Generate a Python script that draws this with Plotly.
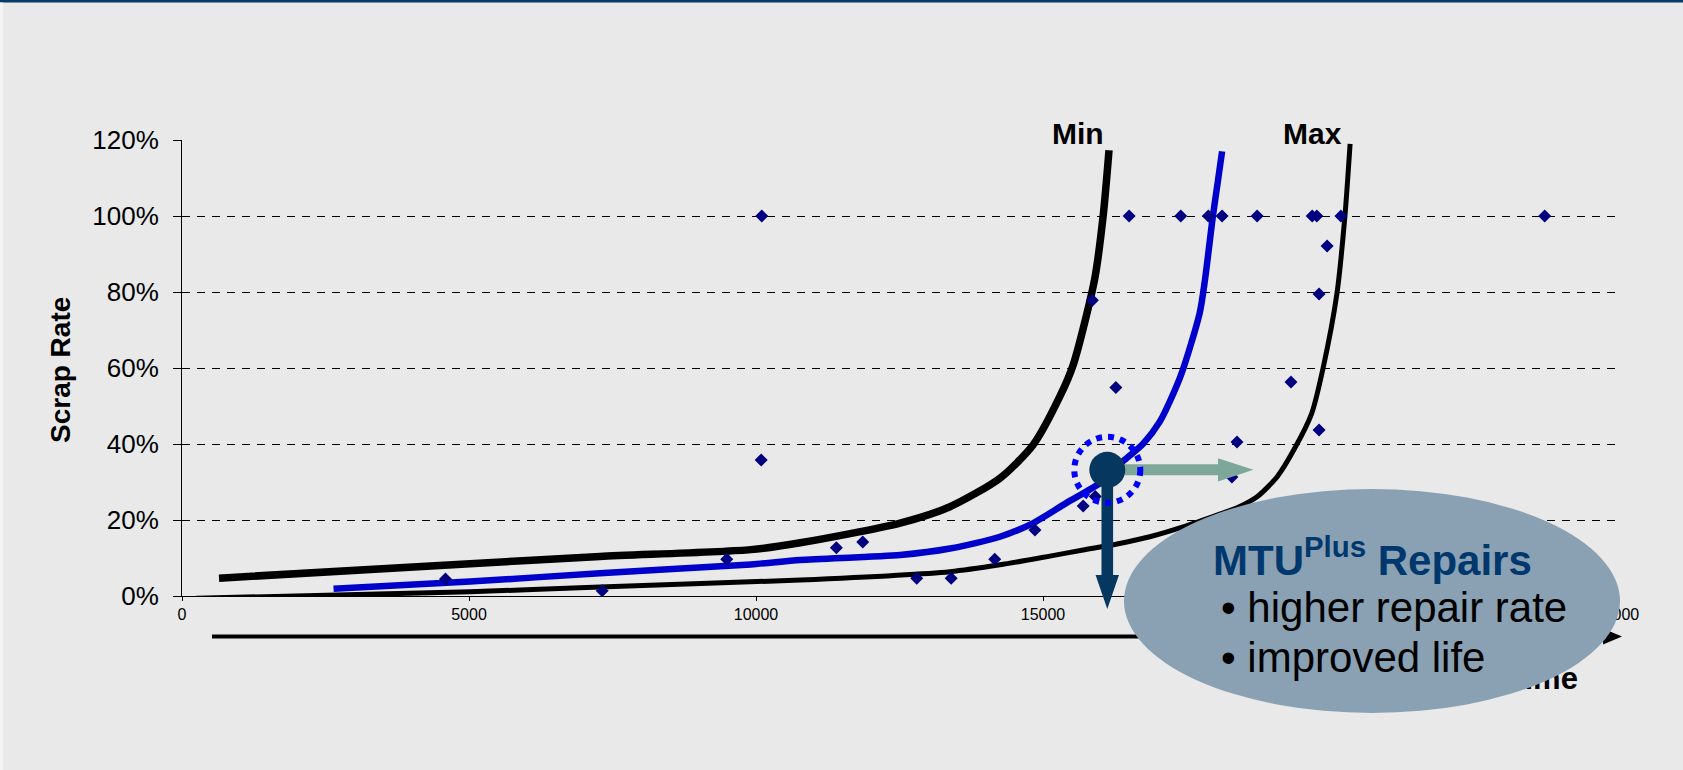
import plotly.graph_objects as go

# ---------------- data ----------------
scrap_time = [4590, 7320, 9490, 10090, 10100, 11400, 11860, 12800, 13400, 14160,
              14860, 15700, 15910, 15860, 16270, 16500, 17400, 17880, 18120, 18730,
              18380, 18290, 19320, 19690, 19770, 19810, 19950, 19810, 20190, 23740]
scrap_rate = [0.045, 0.014, 0.097, 0.358, 1.0, 0.127, 0.142, 0.047, 0.047, 0.097,
              0.174, 0.237, 0.262, 0.778, 0.549, 1.0, 1.0, 1.0, 1.0, 1.0,
              0.405, 0.313, 0.563, 1.0, 1.0, 0.795, 0.921, 0.437, 1.0, 1.0]

min_time = [645, 5020, 7280, 9910, 10770, 12510, 13380, 14250, 14830, 15300, 15530, 15900, 16050, 16150]
min_rate = [0.047, 0.085, 0.104, 0.122, 0.140, 0.192, 0.235, 0.310, 0.398, 0.527, 0.610, 0.834, 1.003, 1.173]

avg_time = [2640, 5020, 7280, 9910, 10770, 12510, 13380, 14250, 14830, 15410, 15990, 16280, 16740,
            17040, 17400, 17730, 17820, 17960, 18050, 18120]
avg_rate = [0.019, 0.038, 0.060, 0.083, 0.095, 0.108, 0.125, 0.156, 0.192, 0.245, 0.297, 0.340, 0.400,
            0.460, 0.580, 0.745, 0.830, 1.000, 1.095, 1.170]

max_time = [245, 5020, 7280, 10770, 13380, 14250, 15120, 15700, 16290, 16860, 17440, 18030, 18380,
            18730, 19080, 19390, 19680, 19880, 20120, 20260, 20350]
max_rate = [-0.006, 0.011, 0.024, 0.042, 0.064, 0.082, 0.105, 0.121, 0.137, 0.156, 0.182, 0.213, 0.232,
            0.261, 0.314, 0.390, 0.480, 0.600, 0.795, 1.000, 1.190]

x_ticks = [0, 5000, 10000, 15000, 20000, 25000]
y_ticks = [0, 0.2, 0.4, 0.6, 0.8, 1.0, 1.2]

highlight_time = 16120
highlight_rate = 0.332

# ---------------- layout geometry ----------------
W, H = 1683, 770
M_L, M_R, M_T, M_B = 182, 66, 140, 174
PW = W - M_L - M_R
PH = H - M_T - M_B
X_RANGE = [0, 25000]
Y_RANGE = [0, 1.2]

FONT = "Liberation Sans, Arial, Helvetica, sans-serif"
NAVY = "#05375F"


def px2xp(px):
    return (px - M_L) / PW


def py2yp(py):
    return (H - M_B - py) / PH


def x2px(x):
    return M_L + (x - X_RANGE[0]) / (X_RANGE[1] - X_RANGE[0]) * PW


def y2py(y):
    return H - M_B - (y - Y_RANGE[0]) / (Y_RANGE[1] - Y_RANGE[0]) * PH


def px2x(px):
    return X_RANGE[0] + (px - M_L) / PW * (X_RANGE[1] - X_RANGE[0])


def poly(points):
    return "M " + " L ".join(f"{px2xp(a):.6f},{py2yp(b):.6f}" for a, b in points) + " Z"


def circle_shape(cx, cy, r, **kw):
    return dict(type="circle", xref="paper", yref="paper",
                x0=px2xp(cx - r), x1=px2xp(cx + r), y0=py2yp(cy + r), y1=py2yp(cy - r),
                layer="above", **kw)


fig = go.Figure()

fig.add_trace(go.Scatter(x=min_time, y=min_rate, mode="lines",
                         line=dict(color="black", width=7.5, shape="spline", smoothing=0.7),
                         hoverinfo="skip"))
fig.add_trace(go.Scatter(x=max_time, y=max_rate, mode="lines",
                         line=dict(color="black", width=5, shape="spline", smoothing=0.7),
                         hoverinfo="skip"))
fig.add_trace(go.Scatter(x=avg_time, y=avg_rate, mode="lines",
                         line=dict(color="#0000CC", width=6.5, shape="spline", smoothing=0.7),
                         hoverinfo="skip"))
# markers on an overlaying x axis (same range) whose single tick label is "Time"
fig.add_trace(go.Scatter(x=scrap_time, y=scrap_rate, mode="markers", xaxis="x2",
                         marker=dict(symbol="diamond", size=10, color="#000080", line=dict(width=0))))

hx, hy = x2px(highlight_time), y2py(highlight_rate)

shapes = []
# top border and left strip
shapes.append(dict(type="rect", xref="paper", yref="paper", x0=px2xp(0), x1=px2xp(W),
                   y0=py2yp(2.5), y1=py2yp(0), fillcolor="#0A3A68", line=dict(width=0), layer="above"))
shapes.append(dict(type="rect", xref="paper", yref="paper", x0=px2xp(0), x1=px2xp(3),
                   y0=py2yp(H), y1=py2yp(2.5), fillcolor="#F4F4F4", line=dict(width=0), layer="above"))
# bottom time arrow
shapes.append(dict(type="line", xref="paper", yref="paper", x0=px2xp(212), x1=px2xp(1606),
                   y0=py2yp(636.5), y1=py2yp(636.5), line=dict(color="black", width=4), layer="above"))
shapes.append(dict(type="path", xref="paper", yref="paper",
                   path=poly([(1603, 628.5), (1622, 636.5), (1603, 644.5)]),
                   fillcolor="black", line=dict(width=0), layer="above"))
# green arrow (to the right)
shapes.append(dict(type="path", xref="paper", yref="paper",
                   path=poly([(hx, hy - 5.5), (1218, hy - 5.5), (1218, hy - 11.7), (1253.5, hy),
                              (1218, hy + 11.7), (1218, hy + 5.5), (hx, hy + 5.5)]),
                   fillcolor="#7DA899", line=dict(width=0), layer="above"))
# navy arrow (down)
shapes.append(dict(type="path", xref="paper", yref="paper",
                   path=poly([(hx - 5.8, hy), (hx + 5.8, hy), (hx + 5.8, 575), (hx + 11.7, 575),
                              (hx, 609), (hx - 11.7, 575), (hx - 5.8, 575)]),
                   fillcolor=NAVY, line=dict(width=0), layer="above"))
shapes.append(circle_shape(hx, hy, 18, fillcolor=NAVY, line=dict(width=0)))
shapes.append(circle_shape(hx, hy, 33, line=dict(color="#0000FF", width=6, dash="dot")))
# ellipse callout
shapes.append(dict(type="circle", xref="paper", yref="paper",
                   x0=px2xp(1124), x1=px2xp(1620), y0=py2yp(713), y1=py2yp(489),
                   fillcolor="#89A1B3", line=dict(width=0), layer="above"))

annotations = [
    dict(text="<b>Min</b>", x=px2xp(1078), y=py2yp(133), xref="paper", yref="paper",
         showarrow=False, xanchor="center", yanchor="middle", font=dict(family=FONT, size=30, color="black")),
    dict(text="<b>Max</b>", x=px2xp(1312), y=py2yp(133), xref="paper", yref="paper",
         showarrow=False, xanchor="center", yanchor="middle", font=dict(family=FONT, size=30, color="black")),
    dict(text="<b>Scrap Rate</b>", x=px2xp(60), y=py2yp(370), xref="paper", yref="paper",
         showarrow=False, xanchor="center", yanchor="middle", textangle=-90,
         font=dict(family=FONT, size=28, color="black")),
    dict(text="<b>MTU<sup>Plus</sup> Repairs</b>", x=px2xp(1211), y=py2yp(557), xref="paper", yref="paper",
         showarrow=False, xanchor="left", yanchor="middle", font=dict(family=FONT, size=42, color="#00386E")),
    dict(text="\u2022 higher repair rate", x=px2xp(1219), y=py2yp(607), xref="paper", yref="paper",
         showarrow=False, xanchor="left", yanchor="middle", font=dict(family=FONT, size=42, color="black")),
    dict(text="\u2022 improved life", x=px2xp(1219), y=py2yp(657), xref="paper", yref="paper",
         showarrow=False, xanchor="left", yanchor="middle", font=dict(family=FONT, size=42, color="black")),
]

fig.update_layout(
    width=W, height=H,
    margin=dict(l=M_L, r=M_R, t=M_T, b=M_B, pad=0),
    paper_bgcolor="#E9E9E9", plot_bgcolor="#E9E9E9",
    showlegend=False,
    font=dict(family=FONT, color="black"),
    shapes=shapes, annotations=annotations,
    xaxis=dict(range=X_RANGE, tickvals=x_ticks, tickformat="d", showline=True, linecolor="black",
               linewidth=1, ticks="outside", ticklen=4, tickcolor="black", showgrid=False,
               zeroline=False, tickfont=dict(family=FONT, size=16, color="black")),
    xaxis2=dict(range=X_RANGE, overlaying="x", side="bottom", anchor="y",
                tickvals=[px2x(1542)], ticktext=["<b>Time</b>"], ticks="", showline=False,
                showgrid=False, zeroline=False, ticklabelstandoff=61,
                tickfont=dict(family=FONT, size=31, color="black")),
    yaxis=dict(range=Y_RANGE, tickvals=y_ticks, tickformat=".0%", showline=True, linecolor="black",
               linewidth=1, ticks="outside", ticklen=8, tickcolor="black", showgrid=True,
               gridcolor="black", gridwidth=1, griddash="8px,7px", zeroline=False,
               ticklabelstandoff=9, tickfont=dict(family=FONT, size=26, color="black")),
)

fig.write_html("out.html")
